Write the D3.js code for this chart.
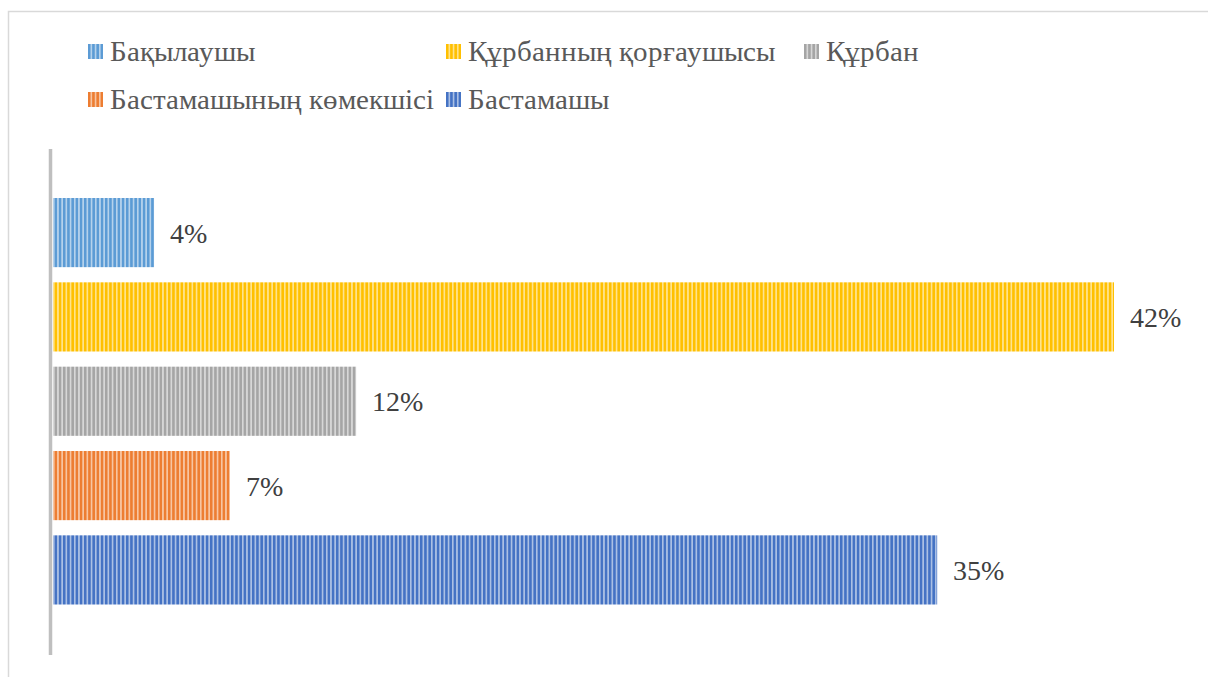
<!DOCTYPE html>
<html>
<head>
<meta charset="utf-8">
<script src="https://cdn.jsdelivr.net/npm/d3@7"></script>
<style>
  @font-face { font-family: "ChartSerif"; src: local("Liberation Serif"), local("LiberationSerif"), local("Liberation Serif Regular"), local("LiberationSerif-Regular"); }
  body { margin: 0; }
  svg text { font-family: "ChartSerif", "Liberation Serif", "Times New Roman", serif; }
</style>
</head>
<body>
<div id="chart"></div>
<script>
// data, top to bottom as drawn
const series = ["Бақылаушы", "Құрбанның қорғаушысы", "Құрбан", "Бастамашының көмекшісі", "Бастамашы"];
const values = [0.04, 0.42, 0.12, 0.07, 0.35];
const labels = ["4%", "42%", "12%", "7%", "35%"];
const colors = ["#5b9bd5", "#ffc000", "#a5a5a5", "#ed7d31", "#4472c4"];

const W = 1208, H = 677;

const svg = d3.select("#chart")
    .append("svg")
    .attr("width", W)
    .attr("height", H);

// striped fills (narrow vertical pattern)
const defs = svg.append("defs");
colors.forEach(function (c, i) {
    const light = d3.interpolateRgb(c, "#ffffff")(0.55);
    const p = defs.append("pattern")
        .attr("id", "stripe" + i)
        .attr("patternUnits", "userSpaceOnUse")
        .attr("width", 4.2)
        .attr("height", 10);
    p.append("rect").attr("width", 4.2).attr("height", 10).attr("fill", light);
    p.append("rect").attr("width", 2.5).attr("height", 10).attr("fill", c);
});

// chart border
svg.append("rect")
    .attr("x", 8.5)
    .attr("y", 11.5)
    .attr("width", W + 10)
    .attr("height", H + 10)
    .attr("fill", "none")
    .attr("stroke", "#d9d9d9")
    .attr("stroke-width", 1.5);

// scales
const x = d3.scaleLinear()
    .domain([0, d3.max(values)])
    .range([53, 1114]);

const y = d3.scaleBand()
    .domain(series)
    .range([198, 604.5])
    .paddingInner(0.18)
    .paddingOuter(0);

// bars
svg.selectAll("rect.bar")
    .data(series)
    .join("rect")
    .attr("class", "bar")
    .attr("x", x(0))
    .attr("y", d => y(d))
    .attr("width", (d, i) => x(values[i]) - x(0))
    .attr("height", y.bandwidth())
    .attr("fill", (d, i) => "url(#stripe" + i + ")");

// value labels
svg.selectAll("text.lbl")
    .data(series)
    .join("text")
    .attr("class", "lbl")
    .attr("x", (d, i) => x(values[i]) + 16)
    .attr("y", d => y(d) + y.bandwidth() / 2 + 10)
    .attr("font-size", 28)
    .attr("fill", "#404040")
    .text((d, i) => labels[i]);

// vertical axis line
svg.append("line")
    .attr("x1", 50.5)
    .attr("x2", 50.5)
    .attr("y1", 149)
    .attr("y2", 655)
    .attr("stroke", "#bfbfbf")
    .attr("stroke-width", 3.5);

// legend, 3 columns
const item = svg.selectAll("g.leg")
    .data(series)
    .join("g")
    .attr("class", "leg")
    .attr("transform", (d, i) => `translate(${88 + (i % 3) * 358}, ${44 + Math.floor(i / 3) * 48})`);

item.append("rect")
    .attr("width", 15)
    .attr("height", 15)
    .attr("fill", (d, i) => "url(#stripe" + i + ")");

item.append("text")
    .attr("x", 22)
    .attr("y", 17)
    .attr("font-size", 29)
    .attr("fill", "#595959")
    .text(d => d);
</script>
</body>
</html>
